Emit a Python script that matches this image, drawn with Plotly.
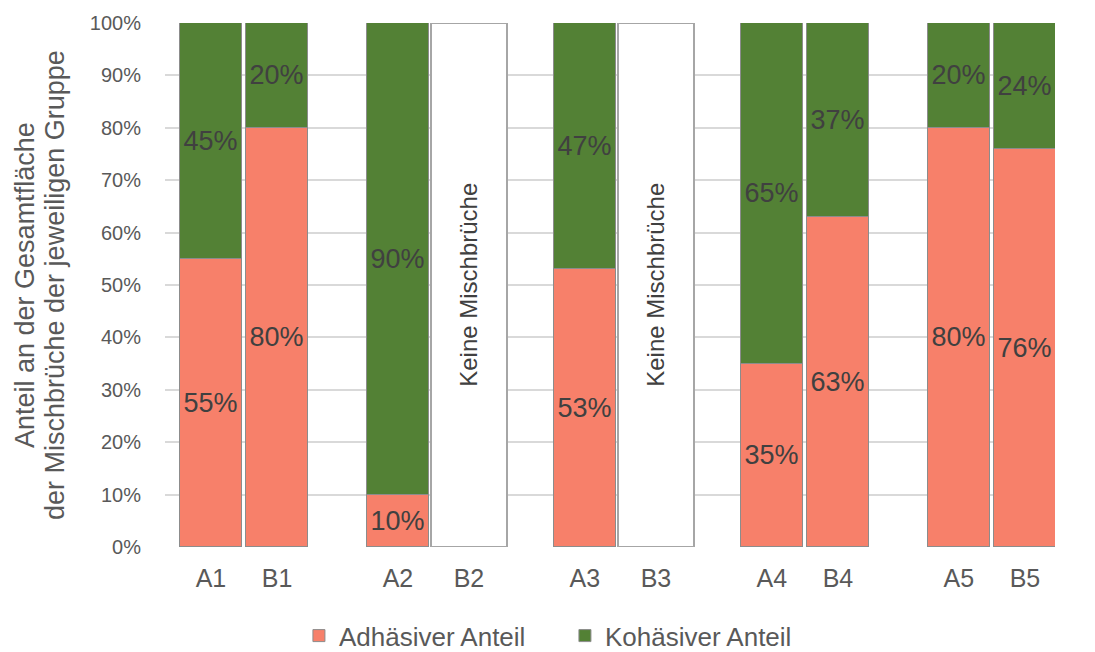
import plotly.graph_objects as go

# Gruppen und Anteile (in %)
labels = ["A1", "B1", "A2", "B2", "A3", "B3", "A4", "B4", "A5", "B5"]
adhaesiv = [55, 80, 10, None, 53, None, 35, 63, 80, 76]
kohaesiv = [45, 20, 90, None, 47, None, 65, 37, 20, 24]
keine = ["B2", "B3"]          # Proben ohne Mischbrüche
keine_text = "Keine Mischbrüche"
y_ticks = list(range(0, 101, 10))
y_title = ["Anteil an der Gesamtfläche", "der Mischbrüche der jeweiligen Gruppe"]

SALMON = "#F7806A"
GREEN = "#538135"
TXT = "#404040"
AX = "#595959"
FONT = "Liberation Sans, Arial, sans-serif"

PITCH = 3.0      # Abstand der Gruppen
HALF = 0.53      # Versatz A/B innerhalb einer Gruppe
BAR_W = 1.0
BOX_W = 1.22

ML, MR, MT, MB = 165, 40, 17, 105
W, H = 1095, 652
PLOT_W = W - ML - MR


def xpos(lab):
    g = int(lab[1:]) - 1
    if lab in keine:
        return PITCH * g + BOX_W / 2
    return PITCH * g + (-HALF if lab[0] == "A" else HALF)


data_labels = [l for l, a in zip(labels, adhaesiv) if a is not None]
adh = [a for a in adhaesiv if a is not None]
koh = [k for k in kohaesiv if k is not None]
xs = [xpos(l) for l in data_labels]

fig = go.Figure()

common = dict(
    width=BAR_W,
    textposition="inside",
    insidetextanchor="middle",
    textangle=0,
    constraintext="none",
    textfont=dict(family=FONT, size=27, color=TXT),
    cliponaxis=False,
)

fig.add_trace(go.Bar(
    x=xs, y=adh, name="Adhäsiver Anteil",
    text=[f"{v}%" for v in adh],
    marker=dict(color=SALMON, line=dict(color="#8c8c8c", width=1)),
    **common,
))
fig.add_trace(go.Bar(
    x=xs, y=koh, name="Kohäsiver Anteil",
    text=[f"{v}%" for v in koh],
    marker=dict(color=GREEN, line=dict(color="#8c8c8c", width=1)),
    **common,
))

# Leere Felder für Gruppen ohne Mischbrüche
fig.add_trace(go.Bar(
    x=[xpos(l) for l in keine], y=[100] * len(keine),
    width=BOX_W, base=0, showlegend=False,
    text=[keine_text] * len(keine),
    textposition="inside", insidetextanchor="middle", textangle=-90,
    constraintext="none",
    textfont=dict(family=FONT, size=24, color=TXT),
    marker=dict(color="white", line=dict(color="#a6a6a6", width=2.5)),
    hoverinfo="skip",
))

# Zweizeiliger Achsentitel als gedrehte Beschriftungen
for line, px in zip(y_title, [25, 55]):
    fig.add_annotation(
        text=line, textangle=-90,
        xref="paper", yref="paper",
        x=(px - ML) / PLOT_W, y=0.5,
        xanchor="center", yanchor="middle",
        showarrow=False,
        font=dict(family=FONT, size=27, color=AX),
    )

x0 = -1.267
fig.update_layout(
    barmode="stack",
    bargap=0,
    width=W, height=H,
    margin=dict(l=ML, r=MR, t=MT, b=MB),
    paper_bgcolor="white",
    plot_bgcolor="white",
    font=dict(family=FONT, color=AX),
    xaxis=dict(
        range=[x0, x0 + PLOT_W / 62.33],
        tickmode="array",
        tickvals=[xpos(l) for l in labels],
        ticktext=labels,
        tickfont=dict(size=25, color=AX),
        showgrid=False, zeroline=False, showline=False,
        ticks="", ticklabelstandoff=14,
    ),
    yaxis=dict(
        range=[0, 100],
        tickmode="array",
        tickvals=y_ticks,
        ticktext=[f"{t}%" for t in y_ticks],
        tickfont=dict(size=20, color=AX),
        showgrid=True, gridcolor="#d9d9d9", gridwidth=1.5,
        zeroline=False, showline=False,
        ticks="", ticklabelstandoff=23,
    ),
    legend=dict(
        orientation="h",
        xref="container", yref="container",
        x=0.273, xanchor="left",
        y=0.025, yanchor="middle",
        font=dict(size=26, color=AX),
        itemwidth=30,
        entrywidth=221,
        traceorder="normal",
    ),
)

fig.write_html("out.html")
